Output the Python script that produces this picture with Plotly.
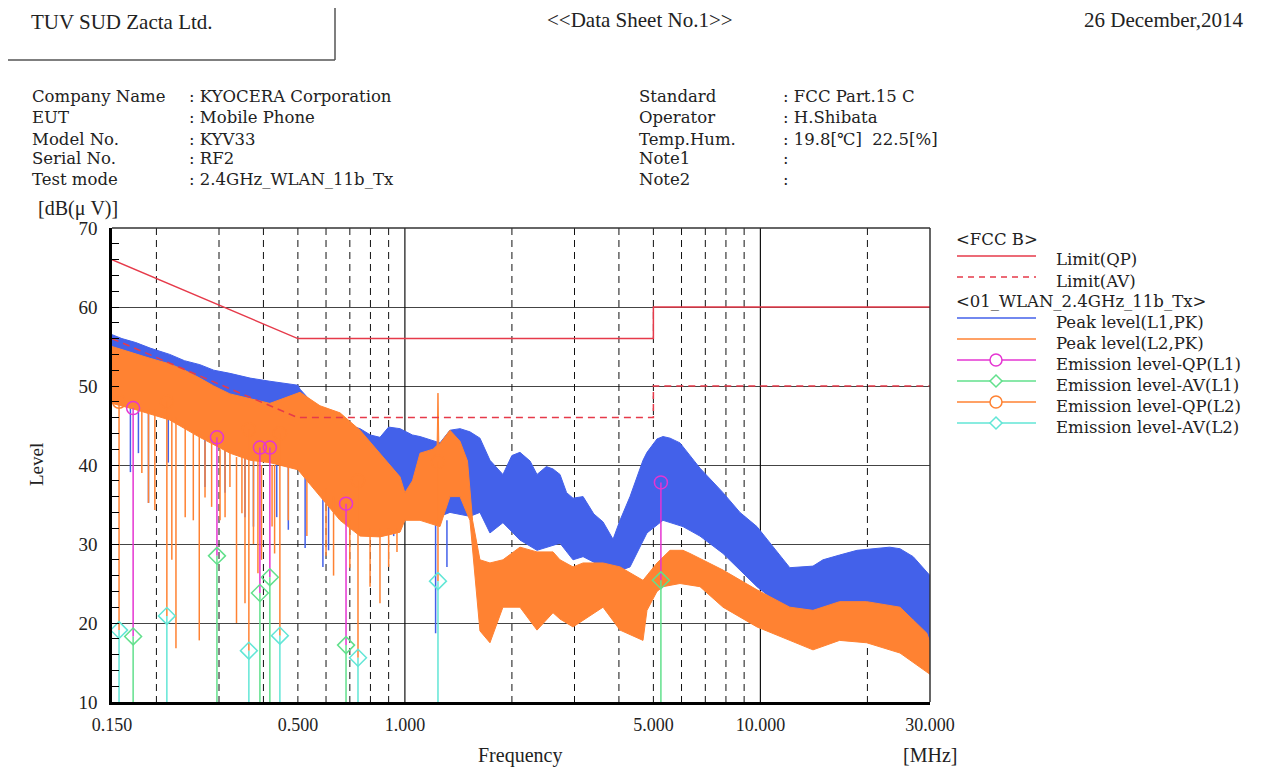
import plotly.graph_objects as go

# ---------------- data ----------------
# Limits (FCC B)
lim_qp_f = [0.15, 0.5, 5.0, 5.0, 30.0]
lim_qp_v = [66.0, 56.0, 56.0, 60.0, 60.0]
lim_av_f = [0.15, 0.5, 5.0, 5.0, 30.0]
lim_av_v = [56.0, 46.0, 46.0, 50.0, 50.0]

# Peak level L1 (blue) envelope
l1_up_f = [0.150, 0.160, 0.175, 0.192, 0.218, 0.240, 0.265, 0.290, 0.322, 0.367, 0.417, 0.460,
           0.500, 0.507, 0.577, 0.620, 0.657, 0.700, 0.748, 0.800, 0.851, 0.900, 0.969, 1.05,
           1.103, 1.177, 1.255, 1.339, 1.429, 1.524, 1.626, 1.735, 1.887, 2.00, 2.107, 2.25,
           2.353, 2.50, 2.61, 2.731, 2.85, 2.971, 3.171, 3.40, 3.609, 3.851, 4.028, 4.298,
           4.675, 4.797, 5.119, 5.322, 5.568, 5.940, 6.338, 6.762, 7.85, 8.76, 9.78, 12.1,
           14.06, 15.0, 16.7, 18.7, 23.1, 24.7, 26.9, 30.0]
l1_up_v = [56.5, 56.0, 55.5, 54.8, 54.0, 53.2, 52.7, 52.0, 51.6, 51.0, 50.6, 50.3,
           50.1, 49.6, 46.8, 46.2, 45.8, 45.0, 44.6, 43.8, 43.5, 44.8, 44.6, 43.8,
           43.6, 43.2, 42.8, 44.4, 44.6, 44.2, 43.4, 40.6, 38.8, 41.2, 41.6, 40.5,
           38.8, 39.8, 39.5, 38.8, 36.5, 35.8, 36.0, 33.8, 32.8, 30.6, 33.0, 36.0,
           40.6, 41.6, 43.3, 43.6, 43.4, 42.8, 41.2, 39.6, 36.5, 34.0, 32.2, 27.0,
           27.2, 28.0, 28.6, 29.2, 29.6, 29.4, 28.4, 26.0]
l1_lo_f = [0.150, 0.218, 0.322, 0.417, 0.500, 0.577, 0.657, 0.748, 0.851, 0.969, 1.05, 1.177,
           1.339, 1.524, 1.626, 1.735, 1.887, 2.107, 2.353, 2.731, 2.971, 3.171, 3.609, 3.851,
           4.298, 4.797, 5.322, 6.057, 6.762, 7.85, 9.78, 12.1, 15.0, 18.7, 23.1, 26.9, 30.0]
l1_lo_v = [48.0, 46.5, 44.0, 41.5, 40.0, 38.0, 36.5, 36.0, 37.0, 35.5, 33.5, 33.0,
           34.0, 33.5, 34.0, 31.4, 32.7, 30.5, 29.2, 30.1, 28.0, 28.4, 27.1, 26.3,
           27.1, 31.4, 33.0, 32.2, 31.0, 28.8, 24.6, 21.3, 21.6, 22.0, 21.6, 20.4, 17.5]

# Peak level L2 (orange) envelope
l2_up_f = [0.150, 0.160, 0.175, 0.192, 0.218, 0.240, 0.265, 0.290, 0.322, 0.367, 0.417, 0.460,
           0.507, 0.577, 0.657, 0.748, 0.851, 0.969, 1.0, 1.05, 1.103, 1.20, 1.232, 1.239,
           1.246, 1.339, 1.429, 1.50, 1.55, 1.626, 1.735, 1.887, 2.107, 2.353, 2.61, 2.731,
           2.971, 3.171, 3.609, 4.028, 4.675, 5.119, 5.568, 6.057, 6.338, 7.85, 9.78, 12.1,
           14.06, 16.7, 19.9, 24.7, 29.4, 30.0]
l2_up_v = [55.0, 54.6, 54.0, 53.5, 52.8, 52.0, 51.0, 50.0, 49.0, 48.4, 47.8, 48.5,
           49.2, 47.5, 46.6, 44.4, 41.5, 38.5, 36.5, 38.0, 41.5, 42.0, 42.5, 49.1,
           42.5, 44.4, 43.0, 40.5, 33.0, 28.0, 27.6, 28.0, 29.6, 29.0, 29.0, 28.0,
           27.1, 27.6, 27.6, 27.1, 25.4, 27.6, 29.2, 29.2, 28.8, 26.7, 24.2, 22.0,
           21.6, 22.7, 22.7, 22.0, 18.7, 17.5]
l2_lo_f = [0.150, 0.175, 0.218, 0.265, 0.322, 0.367, 0.417, 0.500, 0.577, 0.657, 0.748, 0.851,
           0.969, 1.0, 1.103, 1.255, 1.339, 1.429, 1.524, 1.626, 1.735, 1.887, 2.107, 2.353,
           2.61, 2.731, 2.971, 3.609, 4.028, 4.298, 4.675, 4.797, 5.119, 5.322, 5.940, 6.762,
           7.85, 9.78, 12.1, 14.06, 16.7, 19.9, 24.7, 30.0]
l2_lo_v = [47.8, 47.0, 45.7, 43.5, 41.5, 40.6, 40.3, 39.4, 36.0, 33.0, 31.0, 30.9,
           31.5, 33.0, 33.0, 32.2, 36.0, 36.0, 33.0, 19.0, 17.5, 22.0, 22.0, 19.1,
           21.3, 20.5, 19.5, 22.0, 19.1, 18.5, 17.8, 21.6, 24.0, 24.6, 25.0, 24.6,
           22.0, 19.5, 17.8, 16.6, 17.8, 17.5, 16.2, 13.5]

# Downward spikes of the peak traces (freq, top, bottom)
l1_spk_f = [0.169, 0.178, 0.190, 0.216, 0.274, 0.312, 0.355, 0.375, 0.436, 0.470, 0.524,
            0.588, 0.610, 0.930, 1.220, 1.313]
l1_spk_top = [48, 48, 47, 46, 44, 43, 42, 42, 41, 41, 40, 38, 38, 36, 33, 33]
l1_spk_bot = [39.1, 41.5, 35.2, 40.3, 37.2, 36.5, 33.4, 32.2, 33.4, 31.8, 29.5, 27.1, 29.2,
              31.0, 18.7, 27.1]
l2_spk_f = [0.182, 0.190, 0.198, 0.221, 0.227, 0.241, 0.254, 0.264, 0.274, 0.286, 0.302,
            0.312, 0.322, 0.336, 0.348, 0.355, 0.375, 0.386, 0.395, 0.423, 0.430, 0.470,
            0.530, 0.600, 0.630, 0.700, 0.798, 0.851, 0.900, 0.950]
l2_spk_top = [47, 47, 47, 46, 46, 45, 44, 44, 43, 43, 42, 42, 42, 41, 41, 41, 41, 41, 40, 40,
              40, 40, 39, 37, 36, 33, 32, 32, 32, 32]
l2_spk_bot = [39.0, 35.2, 34.3, 28.0, 16.8, 33.4, 33.0, 17.8, 35.9, 34.7, 33.0, 33.4, 37.2,
              20.0, 33.9, 22.5, 30.0, 26.3, 28.0, 32.2, 28.8, 33.0, 31.0, 28.5, 26.0, 27.0,
              24.6, 22.5, 27.1, 29.0]

# Emission levels
l1_f = [0.172, 0.296, 0.391, 0.417, 0.683, 5.25]
qp_l1 = [47.2, 43.5, 42.2, 42.2, 35.1, 37.8]
av_l1 = [18.3, 28.5, 23.8, 25.8, 17.2, 25.4]
l2_f = [0.157, 0.214, 0.364, 0.445, 0.738, 1.239]
qp_l2 = [48.0, 48.0, 44.5, 44.0, 38.0, 40.4]
av_l2 = [19.1, 20.9, 16.5, 18.4, 15.6, 25.3]

# Grid
grid_dash_f = [0.2, 0.3, 0.4, 0.5, 0.6, 0.7, 0.8, 0.9, 2, 3, 4, 5, 6, 7, 8, 9, 20]
grid_solid_f = [1, 10]
tick_vals = [0.15, 0.5, 1, 5, 10, 30]
tick_text = ["0.150", "0.500", "1.000", "5.000", "10.000", "30.000"]

# Header text
info_left = [("Company Name", ": KYOCERA Corporation"), ("EUT", ": Mobile Phone"),
             ("Model No.", ": KYV33"), ("Serial No.", ": RF2"),
             ("Test mode", ": 2.4GHz_WLAN_11b_Tx")]
info_right = [("Standard", ": FCC Part.15 C"), ("Operator", ": H.Shibata"),
              ("Temp.Hum.", ": 19.8[\u2103]  22.5[%]"), ("Note1", ":"), ("Note2", ":")]

# ---------------- styling ----------------
BLUE = "#4361EA"
ORANGE = "#FF8232"
MAGENTA = "#E535D2"
GREEN = "#62E08C"
CYAN = "#62E6D6"
RED = "#E63A4A"
TXT = "#222222"
FONT = "Liberation Serif"
FS = 21          # single texts
RFONT = "DejaVu Serif"
RFS = 16.5       # tightly stacked rows (header info, legend)

OFF = 8                      # page body margin of the html page
W, H = 1274 - OFF, 783 - OFF
L, R, T, B = 112, 930, 228, 702   # plot area in screen pixels


def px(x):
    return (x - L) / (R - L)


def py(y):
    return (B - y) / (B - T)


def segs(fs, tops, bots):
    xs, ys = [], []
    for f, t, b in zip(fs, tops, bots):
        xs += [f, f, None]
        ys += [t, b, None]
    return xs, ys


fig = go.Figure()

# grid lines (vertical)
gx, gy = segs(grid_dash_f, [70] * len(grid_dash_f), [10] * len(grid_dash_f))
fig.add_trace(go.Scatter(x=gx, y=gy, mode="lines", hoverinfo="skip",
                         line=dict(color="#111111", width=1, dash="7px,5px")))
gx, gy = segs(grid_solid_f, [70] * len(grid_solid_f), [10] * len(grid_solid_f))
fig.add_trace(go.Scatter(x=gx, y=gy, mode="lines", hoverinfo="skip",
                         line=dict(color="#111111", width=1.2)))

# blue band
fig.add_trace(go.Scatter(x=l1_up_f + l1_lo_f[::-1], y=l1_up_v + l1_lo_v[::-1],
                         mode="lines", fill="toself", fillcolor=BLUE,
                         line=dict(color=BLUE, width=1)))
sx, sy = segs(l1_spk_f, l1_spk_top, l1_spk_bot)
fig.add_trace(go.Scatter(x=sx, y=sy, mode="lines", line=dict(color=BLUE, width=1.5)))

# orange band
fig.add_trace(go.Scatter(x=l2_up_f + l2_lo_f[::-1], y=l2_up_v + l2_lo_v[::-1],
                         mode="lines", fill="toself", fillcolor=ORANGE,
                         line=dict(color=ORANGE, width=1)))
sx, sy = segs(l2_spk_f, l2_spk_top, l2_spk_bot)
fig.add_trace(go.Scatter(x=sx, y=sy, mode="lines", line=dict(color=ORANGE, width=1.5)))

# emission stems + markers, L2
sx, sy = segs(l2_f, qp_l2, av_l2)
fig.add_trace(go.Scatter(x=sx, y=sy, mode="lines", line=dict(color=ORANGE, width=1.5)))
sx, sy = segs(l2_f, av_l2, [10] * len(l2_f))
fig.add_trace(go.Scatter(x=sx, y=sy, mode="lines", line=dict(color=CYAN, width=1.5)))
fig.add_trace(go.Scatter(x=l2_f, y=qp_l2, mode="markers",
                         marker=dict(symbol="circle-open", size=13, color=ORANGE,
                                     line=dict(width=1.5))))
fig.add_trace(go.Scatter(x=l2_f, y=av_l2, mode="markers",
                         marker=dict(symbol="diamond-open", size=13, color=CYAN,
                                     line=dict(width=1.5))))

# emission stems + markers, L1
sx, sy = segs(l1_f, qp_l1, av_l1)
fig.add_trace(go.Scatter(x=sx, y=sy, mode="lines", line=dict(color=MAGENTA, width=1.5)))
sx, sy = segs(l1_f, av_l1, [10] * len(l1_f))
fig.add_trace(go.Scatter(x=sx, y=sy, mode="lines", line=dict(color=GREEN, width=1.5)))
fig.add_trace(go.Scatter(x=l1_f, y=qp_l1, mode="markers",
                         marker=dict(symbol="circle-open", size=13, color=MAGENTA,
                                     line=dict(width=1.5))))
fig.add_trace(go.Scatter(x=l1_f, y=av_l1, mode="markers",
                         marker=dict(symbol="diamond-open", size=13, color=GREEN,
                                     line=dict(width=1.5))))

# limits
fig.add_trace(go.Scatter(x=lim_qp_f, y=lim_qp_v, mode="lines",
                         line=dict(color=RED, width=1.5)))
fig.add_trace(go.Scatter(x=lim_av_f, y=lim_av_v, mode="lines",
                         line=dict(color=RED, width=1.5, dash="7px,5px")))

fig.update_layout(
    width=W, height=H, autosize=False, showlegend=False,
    margin=dict(l=L - OFF, r=W - (R - OFF), t=T - OFF, b=H - (B - OFF), pad=0),
    paper_bgcolor="white", plot_bgcolor="white",
    font=dict(family=FONT, color=TXT, size=18),
)
fig.update_xaxes(type="log", range=[-0.8239, 1.4771], showgrid=False, zeroline=False,
                 showline=True, linecolor="black", linewidth=2.5,
                 tickvals=tick_vals, ticktext=tick_text, ticks="",
                 tickfont=dict(family=FONT, size=18, color=TXT), ticklabelstandoff=5)
fig.update_yaxes(range=[10, 70], dtick=10, showgrid=True, gridcolor="#444444", gridwidth=1.2,
                 zeroline=False, showline=True, linecolor="black", linewidth=2.5,
                 ticks="inside", ticklen=7, tickcolor="black", tickwidth=1,
                 minor=dict(ticks="inside", ticklen=7, dtick=2, tickcolor="black", showgrid=False),
                 tickfont=dict(family=FONT, size=19, color=TXT), ticklabelstandoff=8)

shapes = []
# plot top/right border
shapes.append(dict(type="line", xref="paper", yref="paper", x0=0, x1=1, y0=1, y1=1,
                   line=dict(color="#333333", width=1.5)))
shapes.append(dict(type="line", xref="paper", yref="paper", x0=1, x1=1, y0=0, y1=1,
                   line=dict(color="#333333", width=1.5)))
# page frame and header box
frame_col = "#555555"
shapes.append(dict(type="line", xref="paper", yref="paper", x0=px(7), x1=px(1274),
                   y0=py(3), y1=py(3), line=dict(color=frame_col, width=1.5)))
shapes.append(dict(type="line", xref="paper", yref="paper", x0=px(7), x1=px(7),
                   y0=py(3), y1=py(783), line=dict(color=frame_col, width=1.5)))
shapes.append(dict(type="line", xref="paper", yref="paper", x0=px(7), x1=px(335),
                   y0=py(60), y1=py(60), line=dict(color=frame_col, width=1.5)))
shapes.append(dict(type="line", xref="paper", yref="paper", x0=px(335), x1=px(335),
                   y0=py(3), y1=py(60), line=dict(color=frame_col, width=1.5)))

ann = []


def text(x, y, s, anchor="left", size=FS, angle=0, family=FONT):
    ann.append(dict(x=px(x), y=py(y), xref="paper", yref="paper", text=s, showarrow=False,
                    xanchor=anchor, yanchor="middle", textangle=angle,
                    borderpad=0, borderwidth=0,
                    font=dict(family=family, size=size, color=TXT)))


def row(x, y, s):
    text(x, y, s, size=RFS, family=RFONT)


text(31, 22, "TUV SUD Zacta Ltd.")
text(640, 20, "&lt;&lt;Data Sheet No.1&gt;&gt;", anchor="center")
text(1243, 20, "26 December,2014", anchor="right")
rows = [97, 118, 139, 159, 180]
for (lab, val), y in zip(info_left, rows):
    row(32, y, lab)
    row(189, y, val)
for (lab, val), y in zip(info_right, rows):
    row(639, y, lab)
    row(783, y, val)

text(38, 208, "[dB(\u03bc V)]", size=20)
text(36, 465, "Level", anchor="center", size=19, angle=-90)
text(520, 755, "Frequency", anchor="center", size=20)
text(930, 755, "[MHz]", anchor="center", size=20)

# legend (drawn manually)
LX0, LX1, LM, LT = 957, 1036, 996, 1056
row(956, 239, "&lt;FCC B&gt;")
legend_rows = [
    (260, "Limit(QP)", RED, "solid", None),
    (281, "Limit(AV)", RED, "dash", None),
    (322, "Peak level(L1,PK)", BLUE, "solid", None),
    (343, "Peak level(L2,PK)", ORANGE, "solid", None),
    (364, "Emission level-QP(L1)", MAGENTA, "solid", "circle"),
    (385, "Emission level-AV(L1)", GREEN, "solid", "diamond"),
    (406, "Emission level-QP(L2)", ORANGE, "solid", "circle"),
    (427, "Emission level-AV(L2)", CYAN, "solid", "diamond"),
]
row(956, 301, "&lt;01_WLAN_2.4GHz_11b_Tx&gt;")
for y, lab, col, dash, mk in legend_rows:
    ly = y - 4
    shapes.append(dict(type="line", xref="paper", yref="paper", x0=px(LX0), x1=px(LX1),
                       y0=py(ly), y1=py(ly),
                       line=dict(color=col, width=1.5, dash="6px,5px" if dash == "dash" else "solid")))
    if mk == "circle":
        shapes.append(dict(type="circle", xref="paper", yref="paper",
                           x0=px(LM - 6), x1=px(LM + 6), y0=py(ly - 6), y1=py(ly + 6),
                           fillcolor="white", line=dict(color=col, width=1.5)))
    elif mk == "diamond":
        shapes.append(dict(type="path", xref="paper", yref="paper",
                           path="M {} {} L {} {} L {} {} L {} {} Z".format(
                               px(LM - 6), py(ly), px(LM), py(ly - 6),
                               px(LM + 6), py(ly), px(LM), py(ly + 6)),
                           fillcolor="white", line=dict(color=col, width=1.5)))
    row(LT, y, lab)

fig.update_layout(shapes=shapes, annotations=ann)
fig.write_html("out.html")
